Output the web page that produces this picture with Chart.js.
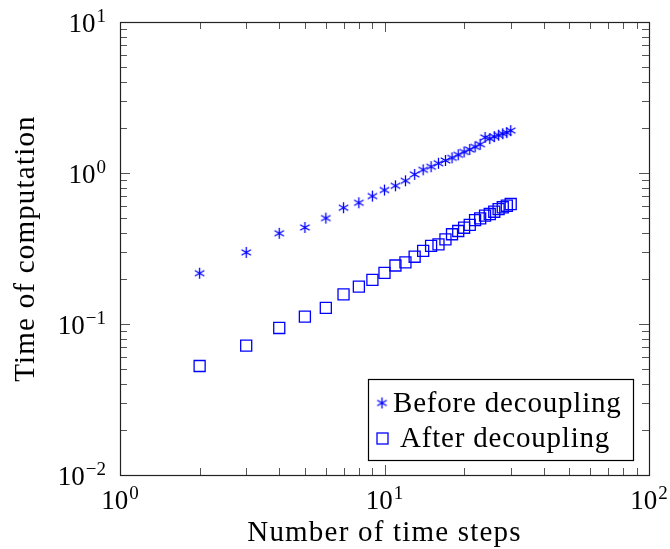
<!DOCTYPE html>
<html>
<head>
<meta charset="utf-8">
<script src="https://cdn.jsdelivr.net/npm/chart.js@4.4.1/dist/chart.umd.min.js"></script>
<style>
  body { margin: 0; background: #fff; }
  #wrap { width: 670px; height: 549px; }
</style>
</head>
<body>
<div id="wrap"><canvas id="myChart"></canvas></div>
<script>
// data
const steps = [2, 3, 4, 5, 6, 7, 8, 9, 10, 11, 12, 13, 14, 15, 16, 17, 18, 19, 20, 21, 22, 23, 24, 25, 26, 27, 28, 29, 30];
const before = [0.217, 0.298, 0.399, 0.436, 0.503, 0.589, 0.635, 0.703, 0.771, 0.823, 0.888, 0.979, 1.05, 1.10, 1.16, 1.21, 1.26, 1.32, 1.38, 1.43, 1.49, 1.55, 1.72, 1.69, 1.74, 1.78, 1.82, 1.85, 1.91];
const after = [0.0527, 0.0719, 0.0941, 0.112, 0.128, 0.157, 0.177, 0.196, 0.218, 0.244, 0.256, 0.279, 0.305, 0.329, 0.337, 0.363, 0.393, 0.413, 0.434, 0.453, 0.488, 0.501, 0.522, 0.535, 0.554, 0.576, 0.593, 0.607, 0.623];
const seriesNames = ["Before decoupling", "After decoupling"];
const xTicks = [1, 10, 100];
const yTicks = [0.01, 0.1, 1, 10];
const xTitle = "Number of time steps";
const yTitle = "Time of computation";

const blue = "rgb(0,0,255)";
const serif = "'Liberation Serif', 'DejaVu Serif', serif";

function makeAsterisk(size, color) {
  const c = document.createElement("canvas");
  c.width = size;
  c.height = size;
  const g = c.getContext("2d");
  const r = size / 2 - 1;
  g.strokeStyle = color;
  g.lineWidth = 1.3;
  g.beginPath();
  for (let k = 0; k < 3; k++) {
    const a = Math.PI / 2 + k * Math.PI / 3;
    g.moveTo(size / 2 + r * Math.cos(a), size / 2 + r * Math.sin(a));
    g.lineTo(size / 2 - r * Math.cos(a), size / 2 - r * Math.sin(a));
  }
  g.stroke();
  return c;
}
const asterisk = makeAsterisk(13, blue);

function expLabel(v) {
  const e = Math.round(Math.log10(v));
  return String(e).replace("-", "\u2212");
}

function drawPow(ctx, x, y, exp, align) {
  ctx.font = "27px " + serif;
  const w10 = ctx.measureText("10").width;
  ctx.font = "19px " + serif;
  const wE = ctx.measureText(exp).width;
  const total = w10 + 1 + wE;
  let x0 = x;
  if (align === "right") x0 = x - total;
  if (align === "center") x0 = x - total / 2;
  ctx.textAlign = "left";
  ctx.textBaseline = "alphabetic";
  ctx.font = "27px " + serif;
  ctx.fillText("10", x0, y);
  ctx.font = "19px " + serif;
  ctx.fillText(exp, x0 + w10 + 1, y - 10);
}

const frame = {
  id: "frame",
  afterDraw(chart) {
    const ctx = chart.ctx;
    const a = chart.chartArea;
    const xs = chart.scales.x;
    const ys = chart.scales.y;
    ctx.save();
    ctx.fillStyle = "#000";

    // ticks, inward on all four sides
    ctx.strokeStyle = "#555";
    ctx.lineWidth = 1;
    ctx.beginPath();
    for (let d = 0; d < xTicks.length; d++) {
      for (let m = 1; m <= 9; m++) {
        const v = xTicks[d] * m;
        if (v > xs.max || (m > 1 && d === xTicks.length - 1)) continue;
        const px = Math.round(xs.getPixelForValue(v)) + 0.5;
        const len = m === 1 ? 10 : 7;
        ctx.moveTo(px, a.bottom); ctx.lineTo(px, a.bottom - len);
        ctx.moveTo(px, a.top); ctx.lineTo(px, a.top + len);
      }
    }
    for (let d = 0; d < yTicks.length; d++) {
      for (let m = 1; m <= 9; m++) {
        const v = yTicks[d] * m;
        if (v > ys.max || (m > 1 && d === yTicks.length - 1)) continue;
        const py = Math.round(ys.getPixelForValue(v)) + 0.5;
        const len = m === 1 ? 10 : 7;
        ctx.moveTo(a.left, py); ctx.lineTo(a.left + len, py);
        ctx.moveTo(a.right, py); ctx.lineTo(a.right - len, py);
      }
    }
    ctx.stroke();

    // box
    ctx.strokeStyle = "#222";
    ctx.lineWidth = 1.2;
    ctx.strokeRect(a.left + 0.5, a.top + 0.5, a.right - a.left, a.bottom - a.top);

    // tick labels
    xTicks.forEach(v => drawPow(ctx, xs.getPixelForValue(v), a.bottom + 34, expLabel(v), "center"));
    yTicks.forEach(v => drawPow(ctx, a.left - 14, ys.getPixelForValue(v) + 10, expLabel(v), "right"));

    // axis titles
    ctx.font = "29px " + serif;
    ctx.letterSpacing = "1.2px";
    ctx.textAlign = "left";
    ctx.textBaseline = "alphabetic";
    const wx = ctx.measureText(xTitle).width;
    ctx.fillText(xTitle, (a.left + a.right) / 2 - wx / 2, 541);
    ctx.save();
    const wy = ctx.measureText(yTitle).width;
    ctx.translate(34, (a.top + a.bottom) / 2);
    ctx.rotate(-Math.PI / 2);
    ctx.fillText(yTitle, -wy / 2, 0);
    ctx.restore();

    // legend
    const lx = 368.5, ly = 379.5, lw = 265, lh = 81;
    ctx.fillStyle = "#fff";
    ctx.fillRect(lx, ly, lw, lh);
    ctx.strokeStyle = "#000";
    ctx.lineWidth = 1.2;
    ctx.strokeRect(lx, ly, lw, lh);
    ctx.drawImage(asterisk, 382 - asterisk.width / 2, 403 - asterisk.height / 2);
    ctx.strokeStyle = blue;
    ctx.lineWidth = 1.3;
    ctx.strokeRect(377, 433, 11, 11);
    ctx.fillStyle = "#000";
    ctx.font = "29px " + serif;
    ctx.letterSpacing = "0.8px";
    ctx.textAlign = "left";
    ctx.fillText(seriesNames[0], 393, 412);
    ctx.fillText(seriesNames[1], 400, 447);
    ctx.letterSpacing = "0px";
    ctx.restore();
  }
};

const ctx = document.getElementById("myChart");
new Chart(ctx, {
  type: "scatter",
  data: {
    datasets: [
      {
        label: seriesNames[0],
        data: steps.map((s, i) => ({ x: s, y: before[i] })),
        pointStyle: asterisk,
        borderColor: blue,
        backgroundColor: blue,
      },
      {
        label: seriesNames[1],
        data: steps.map((s, i) => ({ x: s, y: after[i] })),
        pointStyle: "rect",
        pointRadius: 7.8,
        borderWidth: 1.3,
        borderColor: blue,
        backgroundColor: "rgba(0,0,0,0)",
      },
    ],
  },
  options: {
    responsive: true,
    maintainAspectRatio: false,
    animation: false,
    devicePixelRatio: 1,
    layout: { padding: { left: 120, right: 21, top: 22, bottom: 74 } },
    plugins: { legend: { display: false }, tooltip: { enabled: false } },
    scales: {
      x: {
        type: "logarithmic",
        min: 1,
        max: 100,
        grid: { display: false },
        border: { display: false },
        ticks: { display: false },
        afterFit(s) { s.height = 0; s.paddingLeft = 0; s.paddingRight = 0; },
      },
      y: {
        type: "logarithmic",
        min: 0.01,
        max: 10,
        grid: { display: false },
        border: { display: false },
        ticks: { display: false },
        afterFit(s) { s.width = 0; s.paddingTop = 0; s.paddingBottom = 0; },
      },
    },
  },
  plugins: [frame],
});
</script>
</body>
</html>
